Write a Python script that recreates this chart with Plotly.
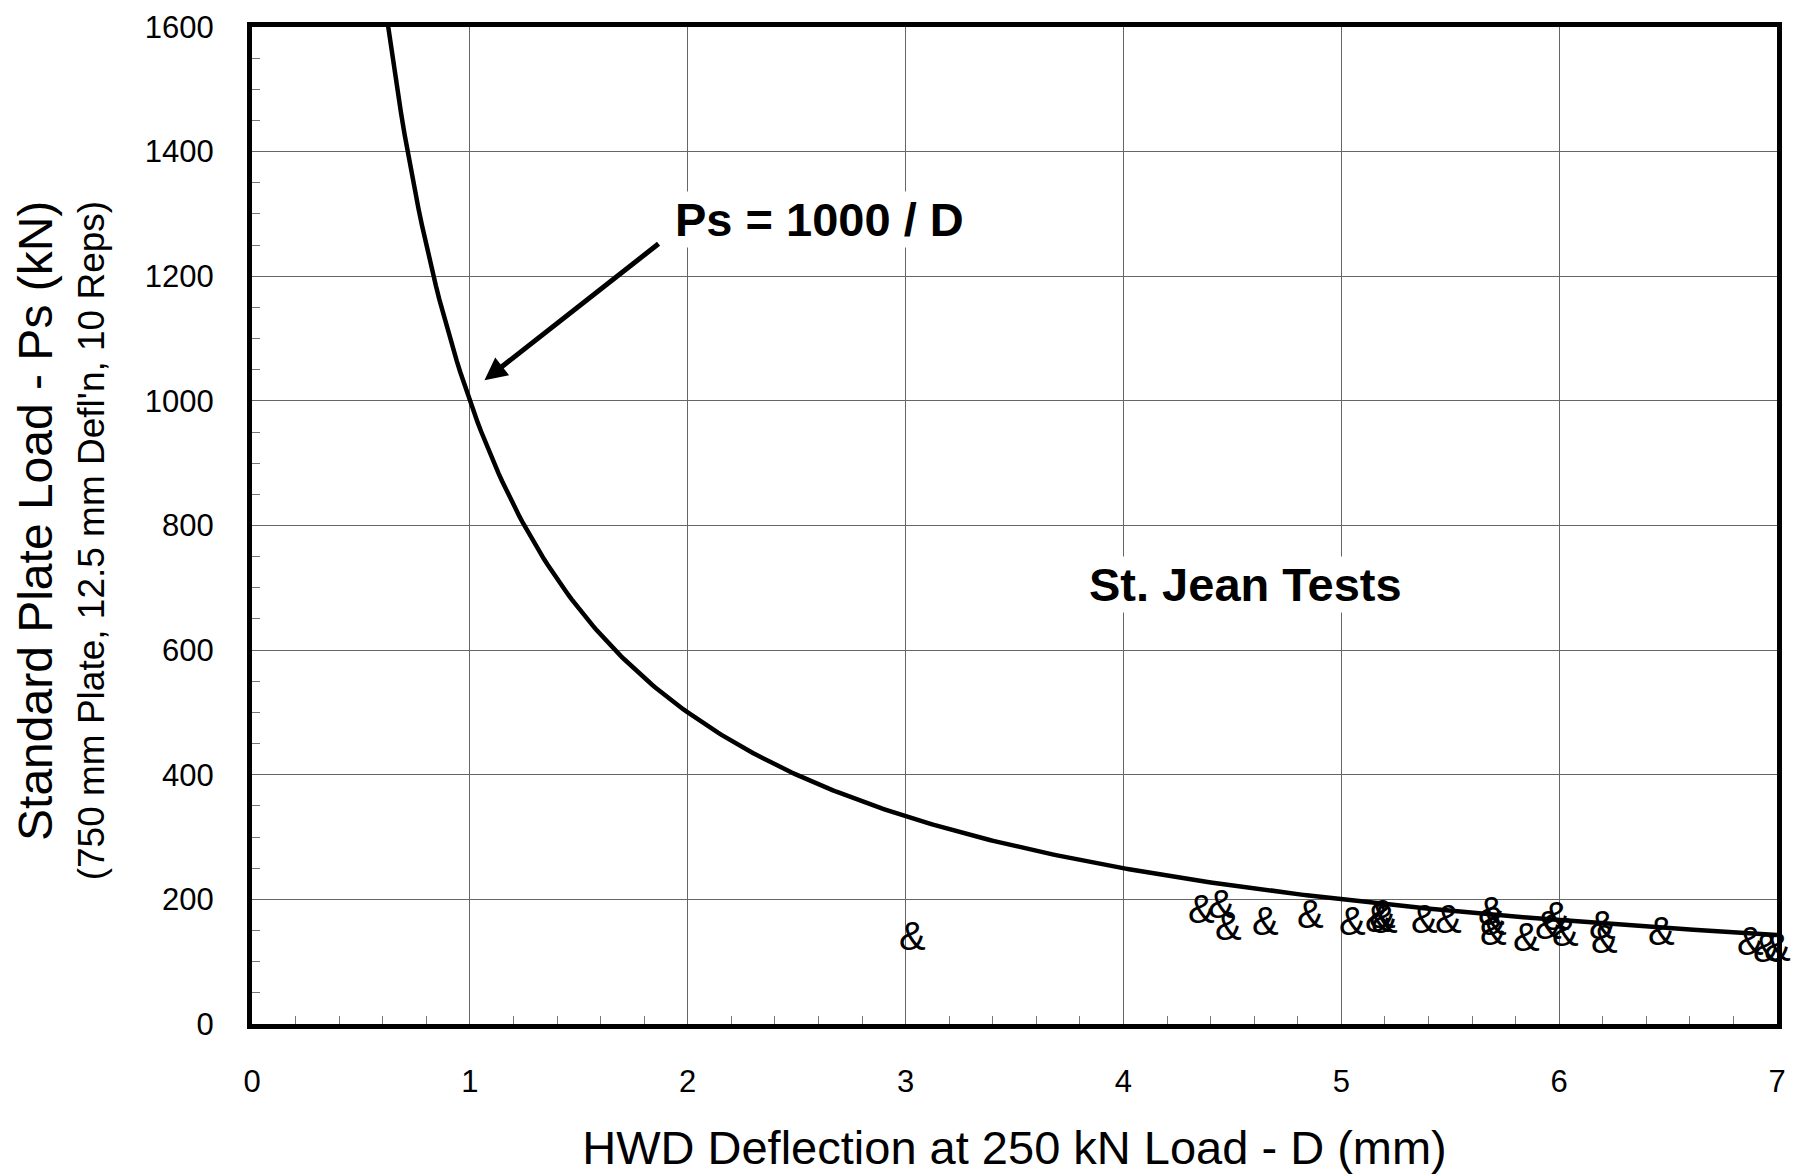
import numpy as np
import plotly.graph_objects as go

# Curve: Ps = 1000 / D (the equation stated on the chart)
curve_D = np.linspace(0.62, 7.0, 400)
curve_Ps = 1000.0 / curve_D

# St. Jean test points
test_D = [3.03, 4.36, 4.45, 4.48, 4.65, 4.86, 5.05, 5.17, 5.19, 5.20, 5.38, 5.49,
          5.69, 5.70, 5.70, 5.85, 5.95, 5.99, 6.03, 6.20, 6.21, 6.47, 6.88, 6.95, 7.00]
test_Ps = [146, 190, 197, 162, 170, 181, 170, 175, 182, 173, 174, 174,
           186, 170, 154, 144, 164, 178, 153, 164, 141, 154, 138, 126, 129]

x_ticks = [0, 1, 2, 3, 4, 5, 6, 7]
y_ticks = [0, 200, 400, 600, 800, 1000, 1200, 1400, 1600]

FONT = "Liberation Sans, Arial, sans-serif"

fig = go.Figure()
fig.add_trace(go.Scatter(x=curve_D, y=curve_Ps, mode="lines",
                         line=dict(color="black", width=4.5), hoverinfo="skip"))

# '&' symbols for the test points, placed through the data axes
for d, p in zip(test_D, test_Ps):
    fig.add_annotation(x=d, y=p, text="&", showarrow=False, yshift=-3,
                       xanchor="center", yanchor="middle",
                       font=dict(family=FONT, size=40, color="black"))

fig.update_layout(
    width=1803, height=1174,
    margin=dict(l=252, r=26, t=27, b=150, autoexpand=False),
    paper_bgcolor="white", plot_bgcolor="white",
    showlegend=False,
    font=dict(family=FONT, color="black"),
)

fig.update_xaxes(
    range=[0, 7], tickvals=x_ticks, ticktext=[str(v) for v in x_ticks],
    automargin=False,
    showline=True, linewidth=5, linecolor="black", mirror=True,
    showgrid=True, gridcolor="#666666", gridwidth=1, zeroline=False,
    ticks="inside", ticklen=8, tickcolor="#666666",
    minor=dict(dtick=0.2, ticks="inside", ticklen=8, tickcolor="#777777", showgrid=False),
    tickfont=dict(size=31, family=FONT, color="black"),
    ticklabelstandoff=26,
    title=dict(text="HWD Deflection at 250 kN Load - D (mm)",
               font=dict(size=47, family=FONT, color="black"), standoff=38),
)
fig.update_yaxes(
    range=[0, 1600], tickvals=y_ticks, ticktext=[str(v) for v in y_ticks],
    automargin=False,
    showline=True, linewidth=5, linecolor="black", mirror=True,
    showgrid=True, gridcolor="#666666", gridwidth=1, zeroline=False,
    ticks="inside", ticklen=8, tickcolor="#666666",
    minor=dict(dtick=50, ticks="inside", ticklen=8, tickcolor="#777777", showgrid=False),
    tickfont=dict(size=31, family=FONT, color="black"),
    ticklabelstandoff=27,
)

# Y-axis titles (two lines of different sizes)
fig.add_annotation(text="Standard Plate Load - Ps (kN)", xref="paper", yref="paper",
                   x=-0.142, y=0.505, xanchor="center", yanchor="middle", textangle=-90,
                   showarrow=False, font=dict(size=48, family=FONT, color="black"))
fig.add_annotation(text="(750 mm Plate, 12.5 mm Defl'n, 10 Reps)", xref="paper", yref="paper",
                   x=-0.105, y=0.485, xanchor="center", yanchor="middle", textangle=-90,
                   showarrow=False, font=dict(size=37, family=FONT, color="black"))

# Equation label and arrow
fig.add_annotation(text="<b>Ps = 1000 / D</b>", x=2.605, y=1291, showarrow=False,
                   bgcolor="white", font=dict(size=47, family=FONT, color="black"))
fig.add_annotation(text="", x=1.067, y=1033, ax=1.873, ay=1254, axref="x", ayref="y",
                   showarrow=True, arrowhead=2, arrowsize=0.9, arrowwidth=5, arrowcolor="black")

fig.add_annotation(text="<b>St. Jean Tests</b>", x=4.56, y=706, showarrow=False,
                   bgcolor="white", font=dict(size=47, family=FONT, color="black"))

fig.write_html("out.html")
